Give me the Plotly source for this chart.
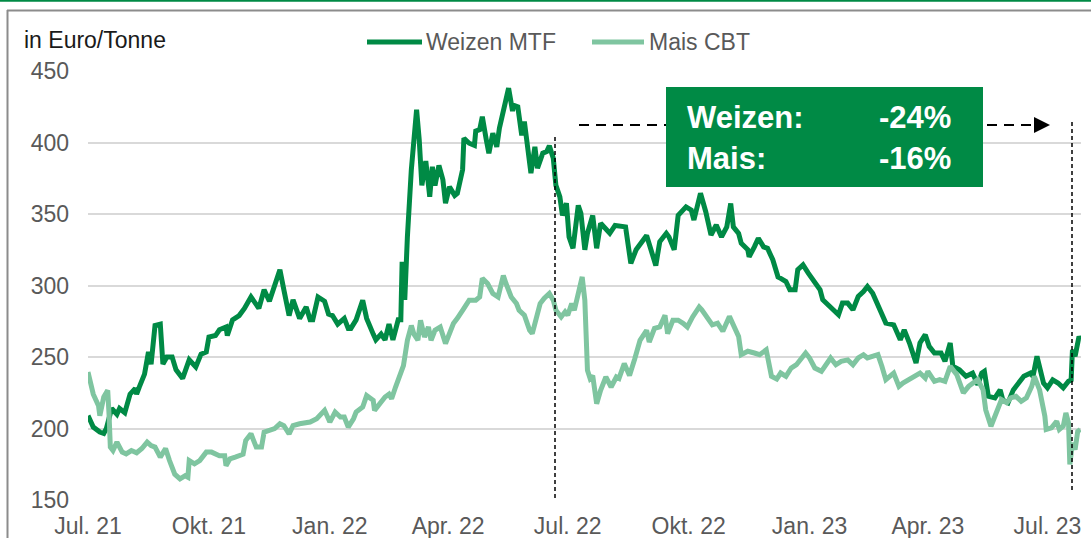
import plotly.graph_objects as go

# ---------------- data ----------------
weizen_dates = [
 "2021-07-01","2021-07-05","2021-07-10","2021-07-13","2021-07-15","2021-07-19","2021-07-23","2021-07-25","2021-07-29",
 "2021-08-02","2021-08-06","2021-08-07","2021-08-09","2021-08-13","2021-08-16","2021-08-18","2021-08-21","2021-08-25",
 "2021-08-27","2021-08-30","2021-09-03","2021-09-06","2021-09-11","2021-09-16","2021-09-21","2021-09-25","2021-09-29",
 "2021-10-01","2021-10-06","2021-10-09","2021-10-14","2021-10-15","2021-10-19","2021-10-24","2021-10-28","2021-11-02",
 "2021-11-08","2021-11-12","2021-11-16","2021-11-24","2021-11-27","2021-12-01","2021-12-04","2021-12-09","2021-12-14",
 "2021-12-17","2021-12-19","2021-12-23","2021-12-28","2021-12-31","2022-01-03","2022-01-07","2022-01-12","2022-01-15",
 "2022-01-17","2022-01-21","2022-01-26","2022-01-29","2022-02-03","2022-02-05","2022-02-09","2022-02-12","2022-02-15",
 "2022-02-18","2022-02-22","2022-02-24","2022-02-25","2022-02-27","2022-03-01","2022-03-04","2022-03-08","2022-03-10",
 "2022-03-12","2022-03-15","2022-03-18","2022-03-20","2022-03-22","2022-03-25","2022-03-28","2022-03-30","2022-04-02",
 "2022-04-06","2022-04-08","2022-04-10","2022-04-12","2022-04-13","2022-04-17","2022-04-21","2022-04-22","2022-04-25",
 "2022-04-27","2022-04-30","2022-05-02","2022-05-05","2022-05-08","2022-05-10","2022-05-13","2022-05-17","2022-05-20",
 "2022-05-21","2022-05-24","2022-05-27","2022-05-29","2022-06-01","2022-06-03","2022-06-06","2022-06-08","2022-06-12",
 "2022-06-15","2022-06-17","2022-06-20","2022-06-22","2022-06-25","2022-06-27","2022-06-30","2022-07-02","2022-07-05",
 "2022-07-09","2022-07-11","2022-07-14","2022-07-16","2022-07-20","2022-07-23","2022-07-26","2022-08-02","2022-08-06",
 "2022-08-14","2022-08-18","2022-08-22","2022-08-30","2022-09-02","2022-09-06","2022-09-09","2022-09-14","2022-09-16",
 "2022-09-20","2022-09-23","2022-09-29","2022-10-03","2022-10-05","2022-10-10","2022-10-14","2022-10-18","2022-10-22",
 "2022-10-26","2022-10-30","2022-11-02","2022-11-04","2022-11-08","2022-11-10","2022-11-15","2022-11-16","2022-11-20",
 "2022-11-23","2022-11-27","2022-11-30","2022-12-04","2022-12-08","2022-12-10","2022-12-14","2022-12-17","2022-12-21",
 "2022-12-23","2022-12-27","2022-12-31","2023-01-05","2023-01-09","2023-01-11","2023-01-17","2023-01-23","2023-01-26",
 "2023-01-30","2023-02-03","2023-02-07","2023-02-11","2023-02-14","2023-02-18","2023-02-21","2023-02-25","2023-02-28",
 "2023-03-06","2023-03-11","2023-03-14","2023-03-18","2023-03-23","2023-03-26","2023-03-30","2023-04-02","2023-04-06",
 "2023-04-11","2023-04-14","2023-04-18","2023-04-20","2023-04-25","2023-04-30","2023-05-05","2023-05-09","2023-05-12",
 "2023-05-14","2023-05-17","2023-05-22","2023-05-26","2023-05-28","2023-06-01","2023-06-05","2023-06-09","2023-06-13",
 "2023-06-18","2023-06-20","2023-06-23","2023-06-25","2023-06-28","2023-07-01","2023-07-05","2023-07-09","2023-07-13",
 "2023-07-17","2023-07-19","2023-07-20","2023-07-22","2023-07-25","2023-07-26"]
weizen_values = [
 209,201,197.5,196.5,200,214,210,214,211,
 224,228,224,229,238,253.5,245,272,273,
 245,250,250,241,235,248,243,252,253.5,
 264,265,269,271,265,276,279,284,292,
 284,297,289,311,297,279,290,277,285,
 276,276,292,289,280,279,273,277,270,
 270,276,289.7,277,266,262,266,262,273,
 262,276,276,316.6,290,334,381,423,402,
 370,387,362,383,370,384,374,357.5,369,
 363,364.5,374,381,403,399.5,398,408,409,
 418,402,392.5,406.5,397,410,423,438,422,
 426,425,405,414.7,395,378.5,397,382,392.5,
 393.7,397.7,389,370,362,349,357.5,334,326,
 356,350.5,325,336.5,349,326,343.5,336.5,342,
 341,315.4,325,335,325,314,330.6,336.5,334,
 325,349,355,352.8,345.8,364.5,351.6,335.3,342.3,
 334,341,357.4,341,336.5,329.5,325,320,327,
 333,327,326,318,306,305,302.8,297,297,
 311,314.4,308.6,301.6,297,290,285.3,279.5,287.7,
 287.7,283,292.3,295.8,299.3,294.6,287.7,279.5,273.7,
 272.5,262,269,259.8,245.8,259.8,265.6,257.4,252.8,
 252.8,247,259.8,243.5,241,236.5,238.7,230.7,238.7,
 240,222.5,221.4,227,220,218,227,231.8,236.5,
 238.7,236.5,250.5,242.3,231.8,228.4,234,231.8,228.4,
 233,234,255,250.5,264.4,262]

mais_dates = [
 "2021-07-01","2021-07-05","2021-07-09","2021-07-10","2021-07-13","2021-07-16","2021-07-17","2021-07-18","2021-07-20",
 "2021-07-23","2021-07-27","2021-07-30","2021-08-03","2021-08-07","2021-08-11","2021-08-15","2021-08-18","2021-08-21",
 "2021-08-25","2021-08-29","2021-09-01","2021-09-05","2021-09-09","2021-09-13","2021-09-15","2021-09-16","2021-09-20",
 "2021-09-24","2021-09-29","2021-10-03","2021-10-09","2021-10-13","2021-10-14","2021-10-17","2021-10-21","2021-10-27",
 "2021-10-29","2021-11-02","2021-11-06","2021-11-10","2021-11-12","2021-11-16","2021-11-20","2021-11-24","2021-11-27",
 "2021-12-01","2021-12-04","2021-12-09","2021-12-17","2021-12-22","2021-12-28","2022-01-01","2022-01-05","2022-01-09",
 "2022-01-12","2022-01-15","2022-01-19","2022-01-21","2022-01-26","2022-01-29","2022-02-03","2022-02-04","2022-02-08",
 "2022-02-12","2022-02-15","2022-02-17","2022-02-20","2022-02-24","2022-02-26","2022-03-01","2022-03-04","2022-03-06",
 "2022-03-09","2022-03-11","2022-03-14","2022-03-17","2022-03-19","2022-03-22","2022-03-26","2022-03-30","2022-04-01",
 "2022-04-05","2022-04-08","2022-04-11","2022-04-13","2022-04-17","2022-04-22","2022-04-25","2022-04-27","2022-05-01",
 "2022-05-05","2022-05-09","2022-05-13","2022-05-15","2022-05-19","2022-05-23","2022-05-25","2022-05-29","2022-06-02",
 "2022-06-04","2022-06-07","2022-06-10","2022-06-13","2022-06-17","2022-06-20","2022-06-22","2022-06-26","2022-06-29",
 "2022-07-01","2022-07-04","2022-07-06","2022-07-10","2022-07-12","2022-07-14","2022-07-16","2022-07-18","2022-07-20",
 "2022-07-23","2022-07-26","2022-07-30","2022-08-03","2022-08-07","2022-08-09","2022-08-13","2022-08-17","2022-08-21",
 "2022-08-25","2022-08-30","2022-09-01","2022-09-05","2022-09-09","2022-09-13","2022-09-15","2022-09-19","2022-09-23",
 "2022-09-27","2022-09-30","2022-10-04","2022-10-07","2022-10-09","2022-10-11","2022-10-14","2022-10-19","2022-10-23",
 "2022-10-27","2022-11-01","2022-11-04","2022-11-08","2022-11-10","2022-11-15","2022-11-20","2022-11-24","2022-11-29",
 "2022-12-03","2022-12-07","2022-12-10","2022-12-14","2022-12-18","2022-12-22","2022-12-26","2022-12-29","2023-01-01",
 "2023-01-05","2023-01-10","2023-01-14","2023-01-17","2023-01-21","2023-01-25","2023-01-30","2023-02-03","2023-02-07",
 "2023-02-11","2023-02-14","2023-02-18","2023-02-22","2023-02-25","2023-02-28","2023-03-06","2023-03-10","2023-03-13",
 "2023-03-17","2023-03-21","2023-03-26","2023-03-30","2023-04-01","2023-04-06","2023-04-10","2023-04-14","2023-04-18",
 "2023-04-23","2023-04-28","2023-05-02","2023-05-05","2023-05-09","2023-05-13","2023-05-15","2023-05-19","2023-05-23",
 "2023-05-27","2023-05-31","2023-06-03","2023-06-07","2023-06-11","2023-06-15","2023-06-19","2023-06-21","2023-06-25",
 "2023-06-29","2023-06-30","2023-07-04","2023-07-08","2023-07-10","2023-07-13","2023-07-15","2023-07-17","2023-07-18",
 "2023-07-20","2023-07-22","2023-07-24","2023-07-26"]
mais_values = [
 239.5,224,216,209,222,226.7,210,187,184.6,
 190.5,183.5,182.3,184.6,183,186,190.5,188,187,
 180,186,177.6,168,164.8,167,166,177.6,175.3,
 177.6,183.5,183.5,181,181,174,178.8,180,182,
 191.6,196.3,187,187,197.5,198.6,200,203.3,202,
 196.3,202,203.3,204.5,206.8,212.7,204.5,211.5,208,
 208,201,206.8,211.5,215,223,219.7,212.7,217.3,
 222,224,220.8,229,238.4,244,261.7,272,266,
 261.7,275.7,264,271,261.7,268.7,271,259.4,264,
 273.4,277,280.4,284,289.7,289.7,292,305,301.4,
 294.4,292,307,301.4,292,287.4,282.7,279.2,268.7,
 266.4,277,287.4,291,294.4,289.7,282.7,278,281.6,
 279.2,287.4,282.7,299,306,289.7,240.7,235,237,
 217.3,226.7,236,229,236,235,245.4,237,248.8,
 261.7,268.7,260.5,270,271,279.2,266.4,275.7,275.7,
 273.4,271,278,282.7,285,283,279.5,272.5,273.7,
 268,278.4,271.4,264.4,251.6,254,252.8,251.6,255,
 236.5,234.6,238.8,236.5,242.3,244.6,249.3,252.8,249.3,
 242.3,240,244.6,249.3,244.6,247,248,244.6,249.3,
 251.6,249.3,250.4,251.6,243.5,234.2,238.8,229.5,231.8,
 234.2,236.5,238.8,235.3,240,233,234.2,233,243.5,
 237.6,224.9,229.5,231.8,234.2,227,213,201.6,210.9,
 220.2,218,221.4,222.5,219,221.4,229.5,236.5,227,
 208.6,199.3,200.4,205,199.3,201.6,210.9,204,174.8,
 190,185.3,198,199.3]

series_names = ["Weizen MTF", "Mais CBT"]
y_ticks = [150, 200, 250, 300, 350, 400, 450]
x_tick_dates = ["2021-07-01","2021-10-01","2022-01-01","2022-04-01","2022-07-01",
                "2022-10-01","2023-01-01","2023-04-01","2023-07-01"]
x_tick_labels = ["Jul. 21","Okt. 21","Jan. 22","Apr. 22","Jul. 22",
                 "Okt. 22","Jan. 23","Apr. 23","Jul. 23"]
unit_label = "in Euro/Tonne"
box_rows = [("Weizen:", "-24%"), ("Mais:", "-16%")]

# ---------------- style ----------------
W, H = 1091, 538
L, R, T, B = 88, 1081, 71, 500
DARK = "rgb(0,138,69)"
LIGHT = "rgb(127,197,160)"
GRAY_TXT = "#595959"
FONT = "Liberation Sans, Arial, sans-serif"

def px(x):
    return (x - L) / (R - L)

def py(y):
    return (B - y) / (B - T)

fig = go.Figure()
fig.add_trace(go.Scatter(x=weizen_dates, y=weizen_values, mode="lines",
                         name=series_names[0], line=dict(color=DARK, width=5),
                         showlegend=False))
fig.add_trace(go.Scatter(x=mais_dates, y=mais_values, mode="lines",
                         name=series_names[1], line=dict(color=LIGHT, width=5),
                         showlegend=False))

shapes = []
# top green rule and gray frame
shapes.append(dict(type="line", xref="paper", yref="paper", x0=px(0), x1=px(W), y0=py(0.8), y1=py(0.8),
                   line=dict(color=DARK, width=2)))
shapes.append(dict(type="line", xref="paper", yref="paper", x0=px(7), x1=px(W), y0=py(10.5), y1=py(10.5),
                   line=dict(color="#8c8c8c", width=2)))
shapes.append(dict(type="line", xref="paper", yref="paper", x0=px(7.5), x1=px(7.5), y0=py(10), y1=py(H + 5),
                   line=dict(color="#8c8c8c", width=2)))
# vertical dashed markers
shapes.append(dict(type="line", xref="paper", yref="paper", x0=px(555), x1=px(555), y0=py(137), y1=py(500),
                   line=dict(color="black", width=1.5, dash="4px,3px")))
shapes.append(dict(type="line", xref="paper", yref="paper", x0=px(1072), x1=px(1072), y0=py(122), y1=py(492),
                   line=dict(color="black", width=1.5, dash="4px,3px")))
# horizontal dashed arrow
shapes.append(dict(type="line", xref="paper", yref="paper", x0=px(579), x1=px(1036), y0=py(125), y1=py(125),
                   line=dict(color="black", width=2, dash="10px,7px")))
shapes.append(dict(type="path", xref="paper", yref="paper",
                   path="M {a},{b} L {c},{d} L {a},{e} Z".format(a=px(1034), b=py(117), c=px(1050), d=py(125), e=py(133)),
                   fillcolor="black", line=dict(width=0)))
# green box
shapes.append(dict(type="rect", xref="paper", yref="paper", x0=px(666), x1=px(983), y0=py(87), y1=py(187),
                   fillcolor=DARK, line=dict(width=0)))
# legend samples
shapes.append(dict(type="line", xref="paper", yref="paper", x0=px(367), x1=px(422), y0=py(42), y1=py(42),
                   line=dict(color=DARK, width=5)))
shapes.append(dict(type="line", xref="paper", yref="paper", x0=px(592), x1=px(644), y0=py(42), y1=py(42),
                   line=dict(color=LIGHT, width=5)))

annotations = []
annotations.append(dict(xref="paper", yref="paper", x=px(22), y=py(40), text=unit_label, showarrow=False,
                        xanchor="left", yanchor="middle", font=dict(family=FONT, size=23, color="#1a1a1a")))
annotations.append(dict(xref="paper", yref="paper", x=px(424), y=py(42), text=series_names[0], showarrow=False,
                        xanchor="left", yanchor="middle", font=dict(family=FONT, size=23, color=GRAY_TXT)))
annotations.append(dict(xref="paper", yref="paper", x=px(647), y=py(42), text=series_names[1], showarrow=False,
                        xanchor="left", yanchor="middle", font=dict(family=FONT, size=23, color=GRAY_TXT)))
for i, (lab, val) in enumerate(box_rows):
    yc = 118 + 40 * i
    annotations.append(dict(xref="paper", yref="paper", x=px(685), y=py(yc), text="<b>%s</b>" % lab,
                            showarrow=False, xanchor="left", yanchor="middle",
                            font=dict(family=FONT, size=31, color="white")))
    annotations.append(dict(xref="paper", yref="paper", x=px(953), y=py(yc), text="<b>%s</b>" % val,
                            showarrow=False, xanchor="right", yanchor="middle",
                            font=dict(family=FONT, size=31, color="white")))

fig.update_layout(
    width=W, height=H,
    margin=dict(l=L, r=W - R, t=T, b=H - B, pad=0, autoexpand=False),
    paper_bgcolor="white", plot_bgcolor="white",
    showlegend=False,
    shapes=shapes, annotations=annotations,
    font=dict(family=FONT, size=23, color=GRAY_TXT),
)
fig.update_xaxes(range=["2021-07-01", "2023-07-26 12:00"], tickvals=x_tick_dates, ticktext=x_tick_labels,
                 showgrid=False, zeroline=False, showline=False, ticks="", ticklabelstandoff=10,
                 automargin=False, tickfont=dict(family=FONT, size=23, color=GRAY_TXT))
fig.update_yaxes(range=[150, 450], tickvals=y_ticks, showgrid=True, gridcolor="#d9d9d9", gridwidth=2,
                 zeroline=False, showline=False, ticks="", ticklabelstandoff=18,
                 automargin=False, tickfont=dict(family=FONT, size=23, color=GRAY_TXT))

fig.write_html("out.html", config={"displayModeBar": False},
               post_script="document.body.style.margin='0';document.body.style.overflow='hidden';")
